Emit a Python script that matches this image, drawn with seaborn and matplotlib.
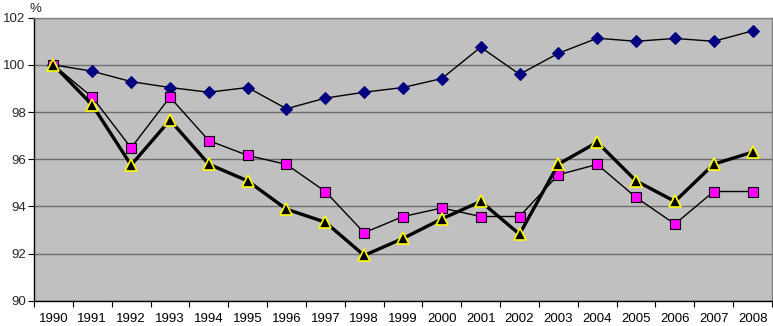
import matplotlib
matplotlib.use("Agg")
import matplotlib.pyplot as plt
import seaborn as sns
import pandas as pd
import numpy as np

years = [1990, 1991, 1992, 1993, 1994, 1995, 1996, 1997, 1998, 1999,
         2000, 2001, 2002, 2003, 2004, 2005, 2006, 2007, 2008]
blue = [100.0, 99.73, 99.29, 99.04, 98.84, 99.04, 98.14, 98.59, 98.84, 99.04,
        99.42, 100.75, 99.6, 100.49, 101.13, 101.0, 101.12, 101.0, 101.44]
magenta = [100.0, 98.63, 96.48, 98.63, 96.79, 96.16, 95.78, 94.63, 92.88, 93.57,
           93.93, 93.57, 93.57, 95.34, 95.78, 94.38, 93.25, 94.63, 94.63]
yellow = [100.0, 98.3, 95.75, 97.66, 95.79, 95.08, 93.88, 93.33, 91.92, 92.64,
          93.47, 94.21, 92.82, 95.79, 96.72, 95.08, 94.21, 95.79, 96.3]
yticks = [90, 92, 94, 96, 98, 100, 102]

sns.set_theme(style="white")
plt.rcParams['font.family'] = ['Liberation Sans', 'DejaVu Sans']

df = pd.DataFrame({"pos": np.arange(len(years)), "year": years,
                   "blue": blue, "magenta": magenta, "yellow": yellow})

fig = plt.figure(figsize=(7.73, 3.26), dpi=100)
ax = fig.add_axes([34/773, 1-300.7/326, (772-34)/773, (300.7-17.7)/326])
ax.set_facecolor("#C0C0C0")

for y in yticks:
    ax.axhline(y, color="#6e6e6e", lw=1.0, zorder=1)

sns.lineplot(data=df, x="pos", y="blue", ax=ax, color="black", lw=1.0,
             marker="D", markersize=6.5, markerfacecolor="#000080",
             markeredgecolor="#000080", zorder=3)
sns.lineplot(data=df, x="pos", y="magenta", ax=ax, color="black", lw=1.0,
             marker="s", markersize=6.5, markerfacecolor="#FF00FF",
             markeredgecolor="black", markeredgewidth=0.8, zorder=3)
sns.lineplot(data=df, x="pos", y="yellow", ax=ax, color="black", lw=2.4,
             marker="^", markersize=8, markerfacecolor="black",
             markeredgecolor="#FFFF00", markeredgewidth=1.2, zorder=4)

ax.set_xlim(-0.5, len(years) - 0.5)
ax.set_ylim(90, 102)
ax.set_yticks(yticks)
ax.set_yticklabels([str(v) for v in yticks], fontsize=9.5)
ax.set_xticks(df["pos"])
ax.set_xticklabels([str(y) for y in years], fontsize=9.5)
ax.set_xticks(np.arange(len(years) + 1) - 0.5, minor=True)
ax.tick_params(axis="x", which="major", length=0, pad=9, colors="black")
ax.tick_params(axis="x", which="minor", length=4, width=0.8, color="black", bottom=True)
ax.tick_params(axis="y", which="major", length=4, width=0.8, left=True, color="black", pad=2)
ax.set_xlabel("")
ax.set_ylabel("")

for side in ["top", "right"]:
    ax.spines[side].set_color("#808080")
    ax.spines[side].set_linewidth(1.0)
for side in ["left", "bottom"]:
    ax.spines[side].set_color("black")
    ax.spines[side].set_linewidth(1.0)

fig.text(30/773, 1-9/326, "%", fontsize=9.5, ha="left", va="center")

fig.savefig("out.png", dpi=100)
